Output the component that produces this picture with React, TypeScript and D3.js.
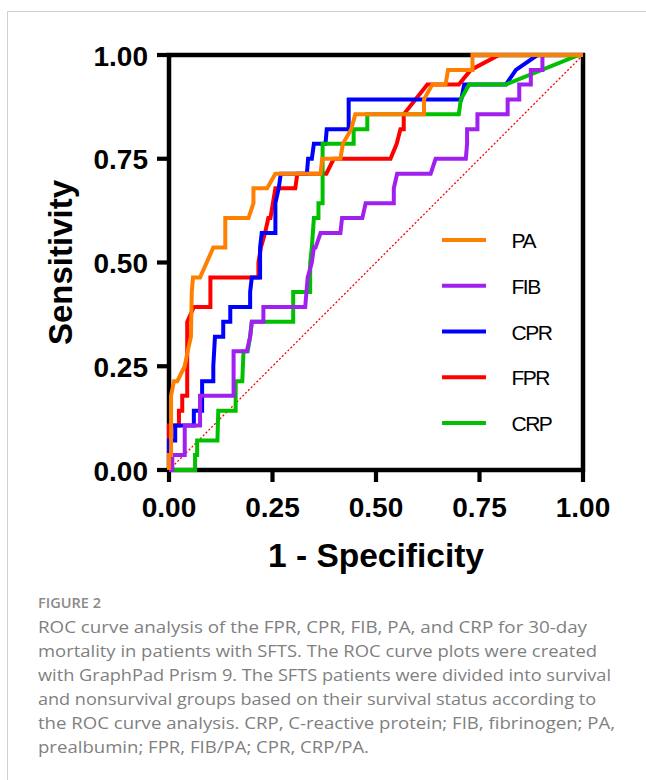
import React from "react";
import * as d3 from "d3";

// ---------- data ----------
const SERIES_NAMES = ["PA", "FIB", "CPR", "FPR", "CRP"];
const SERIES_COLORS = ["#FF8000", "#A020F0", "#0000FF", "#FF0000", "#00C000"];

const PA_POINTS: [number, number][] = [
  [0, 0], [0, 0.036], [0.005, 0.036], [0.005, 0.179], [0.012, 0.214], [0.02, 0.214],
  [0.038, 0.25], [0.045, 0.286], [0.053, 0.321], [0.055, 0.429], [0.058, 0.464],
  [0.075, 0.464], [0.107, 0.536], [0.136, 0.536], [0.136, 0.607], [0.192, 0.607],
  [0.204, 0.643], [0.204, 0.679], [0.237, 0.679], [0.257, 0.714], [0.366, 0.714],
  [0.37, 0.75], [0.414, 0.75], [0.42, 0.786], [0.44, 0.821], [0.45, 0.857],
  [0.616, 0.857], [0.616, 0.893], [0.636, 0.929], [0.668, 0.929], [0.674, 0.964],
  [0.733, 0.964], [0.733, 1], [1, 1],
];

const FIB_POINTS: [number, number][] = [
  [0, 0], [0.008, 0], [0.008, 0.036], [0.038, 0.036], [0.038, 0.107], [0.075, 0.107],
  [0.075, 0.179], [0.156, 0.179], [0.156, 0.286], [0.188, 0.286], [0.196, 0.321],
  [0.2, 0.357], [0.228, 0.357], [0.228, 0.393], [0.329, 0.393], [0.335, 0.464],
  [0.345, 0.5], [0.35, 0.536], [0.354, 0.536], [0.366, 0.571], [0.414, 0.571],
  [0.418, 0.607], [0.467, 0.607], [0.475, 0.643], [0.543, 0.643], [0.543, 0.679],
  [0.551, 0.714], [0.632, 0.714], [0.644, 0.75], [0.717, 0.75], [0.72, 0.786],
  [0.72, 0.821], [0.745, 0.821], [0.745, 0.857], [0.818, 0.857], [0.818, 0.893],
  [0.846, 0.893], [0.846, 0.929], [0.874, 0.929], [0.874, 0.964], [0.902, 0.964],
  [0.902, 1], [1, 1],
];

const CPR_POINTS: [number, number][] = [
  [0, 0], [0, 0.071], [0.015, 0.071], [0.015, 0.107], [0.06, 0.107], [0.06, 0.143],
  [0.08, 0.143], [0.08, 0.214], [0.107, 0.214], [0.107, 0.25], [0.111, 0.321],
  [0.131, 0.321], [0.131, 0.357], [0.148, 0.357], [0.148, 0.393], [0.196, 0.393],
  [0.196, 0.429], [0.2, 0.464], [0.22, 0.464], [0.22, 0.536], [0.224, 0.571],
  [0.257, 0.571], [0.257, 0.643], [0.265, 0.679], [0.27, 0.714], [0.333, 0.714],
  [0.336, 0.75], [0.345, 0.75], [0.35, 0.786], [0.378, 0.786], [0.381, 0.821],
  [0.434, 0.821], [0.434, 0.893], [0.706, 0.893], [0.713, 0.929], [0.814, 0.929],
  [0.838, 0.964], [0.89, 1], [1, 1],
];

const FPR_POINTS: [number, number][] = [
  [0, 0], [0, 0.107], [0.024, 0.107], [0.024, 0.143], [0.032, 0.143], [0.032, 0.179],
  [0.044, 0.179], [0.044, 0.357], [0.06, 0.393], [0.1, 0.393], [0.1, 0.464],
  [0.216, 0.464], [0.216, 0.5], [0.222, 0.536], [0.232, 0.571], [0.24, 0.607],
  [0.245, 0.607], [0.257, 0.679], [0.305, 0.679], [0.31, 0.714], [0.38, 0.714],
  [0.398, 0.75], [0.535, 0.75], [0.55, 0.786], [0.559, 0.821], [0.567, 0.821],
  [0.567, 0.857], [0.624, 0.929], [0.7, 0.929], [0.729, 0.964], [0.797, 1], [1, 1],
];

const CRP_POINTS: [number, number][] = [
  [0, 0], [0.063, 0], [0.063, 0.036], [0.068, 0.036], [0.068, 0.071], [0.117, 0.071],
  [0.119, 0.143], [0.161, 0.143], [0.161, 0.214], [0.177, 0.214], [0.18, 0.286],
  [0.19, 0.286], [0.196, 0.321], [0.2, 0.357], [0.3, 0.357], [0.3, 0.429],
  [0.341, 0.429], [0.341, 0.5], [0.345, 0.536], [0.35, 0.607], [0.361, 0.607],
  [0.361, 0.643], [0.371, 0.643], [0.371, 0.786], [0.446, 0.786], [0.446, 0.821],
  [0.479, 0.821], [0.479, 0.857], [0.7, 0.857], [0.705, 0.893], [0.725, 0.929],
  [0.814, 0.929], [0.99, 1], [1, 1],
];

const TICKS = [0, 0.25, 0.5, 0.75, 1];
const TICK_LABELS = ["0.00", "0.25", "0.50", "0.75", "1.00"];

const X_TITLE = "1 - Specificity";
const Y_TITLE = "Sensitivity";

const FIGURE_LABEL = "FIGURE 2";
const CAPTION_LINES = [
  "ROC curve analysis of the FPR, CPR, FIB, PA, and CRP for 30-day",
  "mortality in patients with SFTS. The ROC curve plots were created",
  "with GraphPad Prism 9. The SFTS patients were divided into survival",
  "and nonsurvival groups based on their survival status according to",
  "the ROC curve analysis. CRP, C-reactive protein; FIB, fibrinogen; PA,",
  "prealbumin; FPR, FIB/PA; CPR, CRP/PA.",
];
const CAPTION_WIDTHS = [549, 559, 573, 558, 577, 331];

// ---------- layout ----------
const W = 646;
const H = 780;
const X0 = 169, X1 = 583, Y0 = 470, Y1 = 55;
const FONT = "'Liberation Sans', Arial, Helvetica, sans-serif";

export default function App() {
  const x = d3.scaleLinear().domain([0, 1]).range([X0, X1]);
  const y = d3.scaleLinear().domain([0, 1]).range([Y0, Y1]);
  const line = d3
    .line<[number, number]>()
    .x((d) => x(d[0]))
    .y((d) => y(d[1]));

  const seriesPoints: Record<string, [number, number][]> = {
    PA: PA_POINTS,
    FIB: FIB_POINTS,
    CPR: CPR_POINTS,
    FPR: FPR_POINTS,
    CRP: CRP_POINTS,
  };
  // drawing order (bottom -> top)
  const drawOrder = ["FPR", "CPR", "CRP", "FIB", "PA"];
  const colorOf = (n: string) => SERIES_COLORS[SERIES_NAMES.indexOf(n)];

  const legendY = d3.scalePoint<string>().domain(SERIES_NAMES).range([240, 423]);

  return (
    <svg
      width={W}
      height={H}
      viewBox={`0 0 ${W} ${H}`}
      style={{ position: "absolute", left: 0, top: 0, background: "#fff" }}
    >
      <rect x={0} y={0} width={W} height={H} fill="#fff" />
      {/* outer frame */}
      <path d={`M7.5,${H} V11.5 H${W}`} fill="none" stroke="#cfcfcf" strokeWidth={1} />

      {/* diagonal reference */}
      <line
        x1={x(0)}
        y1={y(0)}
        x2={x(1)}
        y2={y(1)}
        stroke="#FF0000"
        strokeWidth={1.3}
        strokeDasharray="2,2"
      />

      {/* axes box */}
      <g stroke="#000" strokeWidth={4.5} fill="none">
        <rect x={X0} y={Y1} width={X1 - X0} height={Y0 - Y1} strokeLinejoin="miter" />
      </g>
      {/* y ticks */}
      {TICKS.map((t, i) => (
        <g key={"yt" + i}>
          <line x1={X0 - 12} x2={X0} y1={y(t)} y2={y(t)} stroke="#000" strokeWidth={4.2} />
          <text
            x={148}
            y={y(t) + 10.5}
            textAnchor="end"
            fontFamily={FONT}
            fontWeight="bold"
            fontSize={28}
            fill="#000"
          >
            {TICK_LABELS[i]}
          </text>
        </g>
      ))}
      {/* x ticks */}
      {TICKS.map((t, i) => (
        <g key={"xt" + i}>
          <line x1={x(t)} x2={x(t)} y1={Y0} y2={Y0 + 12} stroke="#000" strokeWidth={4.2} />
          <text
            x={x(t)}
            y={517}
            textAnchor="middle"
            fontFamily={FONT}
            fontWeight="bold"
            fontSize={28}
            fill="#000"
          >
            {TICK_LABELS[i]}
          </text>
        </g>
      ))}

      {/* curves */}
      {drawOrder.map((n) => (
        <path
          key={n}
          d={line(seriesPoints[n]) || ""}
          fill="none"
          stroke={colorOf(n)}
          strokeWidth={4}
          strokeLinejoin="miter"
        />
      ))}

      {/* axis titles */}
      <text
        x={(X0 + X1) / 2}
        y={567}
        textAnchor="middle"
        fontFamily={FONT}
        fontWeight="bold"
        fontSize={33.5}
        fill="#000"
      >
        {X_TITLE}
      </text>
      <text
        transform={`translate(72, ${(Y0 + Y1) / 2}) rotate(-90)`}
        textAnchor="middle"
        fontFamily={FONT}
        fontWeight="bold"
        fontSize={33}
        fill="#000"
      >
        {Y_TITLE}
      </text>

      {/* legend */}
      {SERIES_NAMES.map((n) => (
        <g key={"lg" + n}>
          <line
            x1={442}
            x2={486}
            y1={legendY(n)}
            y2={legendY(n)}
            stroke={colorOf(n)}
            strokeWidth={4}
          />
          <text
            x={511.5}
            y={(legendY(n) as number) + 8}
            fontFamily={FONT}
            fontSize={21}
            letterSpacing={-1.5}
            fill="#000"
          >
            {n}
          </text>
        </g>
      ))}

      {/* caption */}
      <text
        x={38}
        y={608.3}
        fontFamily="'Open Sans', 'Noto Sans', sans-serif"
        fontWeight={600}
        fontSize={13.5}
        fill="#8a8a8a"
        textLength={63}
        lengthAdjust="spacingAndGlyphs"
      >
        {FIGURE_LABEL}
      </text>
      {CAPTION_LINES.map((l, i) => (
        <text
          key={"cap" + i}
          x={38}
          y={633.3 + i * 24}
          fontFamily="'Open Sans', 'Noto Sans', sans-serif"
          fontSize={16}
          fill="#7f7f7f"
          textLength={CAPTION_WIDTHS[i]}
          lengthAdjust="spacingAndGlyphs"
        >
          {l}
        </text>
      ))}
    </svg>
  );
}
